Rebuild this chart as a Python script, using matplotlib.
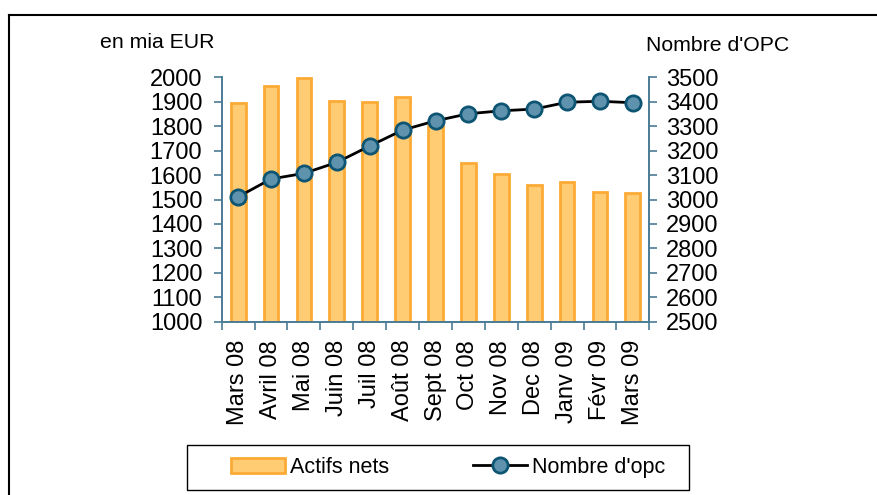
import matplotlib.pyplot as plt
import numpy as np
from matplotlib.lines import Line2D
from matplotlib.patches import Rectangle

plt.rcParams["font.family"] = ["Liberation Sans", "DejaVu Sans"]

months = ["Mars 08", "Avril 08", "Mai 08", "Juin 08", "Juil 08", "Août 08",
          "Sept 08", "Oct 08", "Nov 08", "Dec 08", "Janv 09", "Févr 09", "Mars 09"]
actifs_nets = [1896, 1966, 1998, 1903, 1898, 1918, 1801, 1648, 1604, 1561, 1572, 1531, 1528]
nombre_opc = [3011, 3084, 3107, 3152, 3219, 3284, 3322, 3351, 3363, 3370, 3398, 3402, 3396]

axis_col = "#4a7b95"

fig = plt.figure(figsize=(8.77, 4.95), dpi=100)
ax = fig.add_axes([0.2528, 0.3501, 0.4876, 0.4937])
ax2 = ax.twinx()

x = np.arange(len(months))
bars = ax.bar(x, [v - 1000 for v in actifs_nets], bottom=1000, width=0.45,
              color="#ffcc73", edgecolor="#fbab35", linewidth=2, label="Actifs nets")
line, = ax2.plot(x, nombre_opc, color="black", lw=2, marker="o", markersize=11,
                 markerfacecolor="#5f93ad", markeredgecolor="#0d5573",
                 markeredgewidth=2, label="Nombre d'opc")

ax.set_xlim(-0.5, len(months) - 0.5)
ax.set_ylim(1000, 2000)
ax2.set_ylim(2500, 3500)
ax.set_yticks(np.arange(1000, 2001, 100))
ax2.set_yticks(np.arange(2500, 3501, 100))

ax.set_xticks(x)
ax.set_xticklabels(months, rotation=90, fontsize=17)
ax.set_xticks(np.arange(-0.5, len(months)), minor=True)
ax.tick_params(axis="x", which="major", length=0, pad=13)
ax.tick_params(axis="x", which="minor", length=6, color=axis_col, width=1.2)
ax.tick_params(axis="y", labelsize=17, length=6, color=axis_col, width=1.2, pad=8)
ax2.tick_params(axis="y", labelsize=17, length=6, color=axis_col, width=1.2, pad=6)

for a in (ax, ax2):
    a.spines["top"].set_visible(False)
    for s in ("left", "right", "bottom"):
        a.spines[s].set_color(axis_col)
        a.spines[s].set_linewidth(1.2)

fig.text(0.114, 0.915, "en mia EUR", fontsize=15.3, va="center", ha="left")
fig.text(0.737, 0.908, "Nombre d'OPC", fontsize=15.3, va="center", ha="left")

# outer frame (top and left edges only visible)
fig.add_artist(Line2D([0.0103, 1.0], [0.969, 0.969], color="black", lw=1.5))
fig.add_artist(Line2D([0.0103, 0.0103], [0.0, 0.969], color="black", lw=1.5))

# legend box
fig.add_artist(Rectangle((0.2132, 0.0101), 0.5724, 0.0909, transform=fig.transFigure,
                         fill=False, edgecolor="black", lw=1))
fig.legend(handles=[bars, line], loc="center left", bbox_to_anchor=(0.2634, 0.0556),
           ncol=2, fontsize=15.5, frameon=False, handlelength=2.5,
           handletextpad=0.23, columnspacing=3.9, borderpad=0, borderaxespad=0)

fig.savefig("out.png", dpi=100)
